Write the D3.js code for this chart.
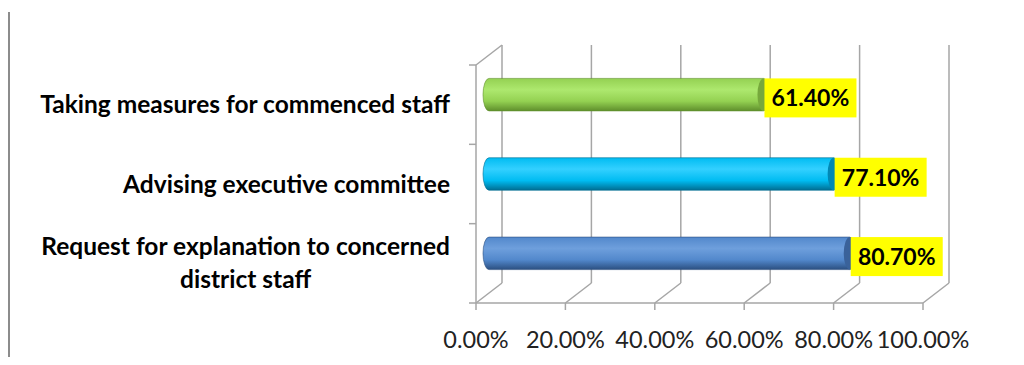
<!DOCTYPE html>
<html>
<head>
<meta charset="utf-8">
<script src="https://cdn.jsdelivr.net/npm/d3@7"></script>
<style>
  html, body { margin: 0; padding: 0; background: #fff; }
  svg { display: block; font-family: Lato, "Open Sans", sans-serif; }
</style>
</head>
<body>
<svg id="chart" width="1024" height="365"></svg>
<script>
// Categories listed top to bottom as they appear on the vertical axis
const categories = [
  ["Taking measures for commenced staff"],
  ["Advising executive committee"],
  ["Request for explanation to concerned", "district staff"]
];
const values = [0.614, 0.771, 0.807];
const valueLabels = ["61.40%", "77.10%", "80.70%"];
const tickValues = [0, 0.2, 0.4, 0.6, 0.8, 1.0];
const tickLabels = ["0.00%", "20.00%", "40.00%", "60.00%", "80.00%", "100.00%"];
const barColors = [
  { light: "#ade86e", mid: "#94d152", dark: "#5f8f2c", cap: "#76a83c" },
  { light: "#33d0ff", mid: "#00bcf2", dark: "#006d92", cap: "#0088b5" },
  { light: "#6e9fdc", mid: "#5288cc", dark: "#2b4f80", cap: "#3a629a" }
];

const svg = d3.select("#chart");

// Plot frame: front floor line and 3D depth offset
const x0 = 476, plotW = 447;
const yTop = 65, yBottom = 303;
const depthX = 26, depthY = -20;

const x = d3.scaleLinear().domain([0, 1]).range([x0, x0 + plotW]);
const y = d3.scaleBand().domain(d3.range(categories.length)).range([yTop, yBottom]);

const gridColor = "#a6a6a6";

// Page-side rule at the far left
svg.append("line")
  .attr("x1", 9).attr("x2", 9).attr("y1", 12).attr("y2", 357)
  .attr("stroke", "#8c8c8c").attr("stroke-width", 2);

const frame = svg.append("g").attr("fill", "none").attr("stroke", gridColor).attr("stroke-width", 1.5);

tickValues.forEach(v => {
  // back-wall gridlines
  frame.append("line")
    .attr("x1", x(v) + depthX).attr("x2", x(v) + depthX)
    .attr("y1", yTop + depthY).attr("y2", yBottom + depthY);
  // floor diagonals
  frame.append("line")
    .attr("x1", x(v)).attr("x2", x(v) + depthX)
    .attr("y1", yBottom).attr("y2", yBottom + depthY);
  // tick marks below the floor
  frame.append("line")
    .attr("x1", x(v)).attr("x2", x(v))
    .attr("y1", yBottom).attr("y2", yBottom + 7);
});

// Floor front edge
frame.append("line")
  .attr("x1", x(0)).attr("x2", x(1))
  .attr("y1", yBottom).attr("y2", yBottom);

// Left wall front edge and top diagonal
frame.append("line")
  .attr("x1", x(0)).attr("x2", x(0))
  .attr("y1", yTop).attr("y2", yBottom);
frame.append("line")
  .attr("x1", x(0)).attr("x2", x(0) + depthX)
  .attr("y1", yTop).attr("y2", yTop + depthY);

// Category tick marks on the left wall
const catEdges = y.domain().map(i => y(i)).concat([yBottom]);
catEdges.forEach(e => {
  frame.append("line")
    .attr("x1", x(0) - 7).attr("x2", x(0))
    .attr("y1", e).attr("y2", e);
});

// Gradients for cylinder bars
const defs = svg.append("defs");
barColors.forEach((c, i) => {
  const g = defs.append("linearGradient")
    .attr("id", "cyl" + i).attr("x1", 0).attr("y1", 0).attr("x2", 0).attr("y2", 1);
  g.append("stop").attr("offset", "0%").attr("stop-color", c.mid);
  g.append("stop").attr("offset", "35%").attr("stop-color", c.light);
  g.append("stop").attr("offset", "70%").attr("stop-color", c.mid);
  g.append("stop").attr("offset", "100%").attr("stop-color", c.dark);
});

// Bars sit halfway into the depth
const midDX = depthX / 2, midDY = depthY / 2;
const barH = y.bandwidth() * 0.41;
const rx = 6;

const bars = svg.append("g");
values.forEach((v, i) => {
  const cy = y(i) + y.bandwidth() / 2 + midDY;
  const top = cy - barH / 2, bot = cy + barH / 2;
  const left = x(0) + midDX;
  const right = x(v) + midDX;
  const ry = barH / 2;
  const path = `M${left},${top} L${right},${top} A${rx},${ry} 0 0 1 ${right},${bot} ` +
               `L${left},${bot} A${rx},${ry} 0 0 1 ${left},${top} Z`;
  bars.append("path")
    .attr("d", path)
    .attr("fill", `url(#cyl${i})`)
    .attr("stroke", barColors[i].dark).attr("stroke-width", 0.6);
  // end cap
  bars.append("ellipse")
    .attr("cx", right).attr("cy", cy).attr("rx", rx).attr("ry", ry)
    .attr("fill", barColors[i].cap);

  // value label box
  const boxW = 92, boxH = 39;
  const bx = right + 1, by = top;
  bars.append("rect")
    .attr("x", bx).attr("y", by).attr("width", boxW).attr("height", boxH)
    .attr("fill", "#ffff00");
  bars.append("text")
    .attr("x", bx + boxW / 2).attr("y", by + boxH / 2)
    .attr("dy", "0.36em")
    .attr("text-anchor", "middle")
    .attr("font-size", 23).attr("font-weight", "bold")
    .attr("fill", "#000")
    .text(valueLabels[i]);
});

// Category labels: block right-aligned, wrapped lines centred within the block
const catG = svg.append("g");
const labelRight = 450;
const catFont = 24.5;
categories.forEach((lines, i) => {
  const cy = y(i) + y.bandwidth() / 2;
  const lh = 33;
  const startY = cy - (lines.length - 1) * lh / 2 - (lines.length > 1 ? 1 : 0);
  const g = catG.append("g");
  const texts = lines.map((ln, j) => g.append("text")
    .attr("y", startY + j * lh)
    .attr("dy", "0.36em")
    .attr("font-size", catFont).attr("font-weight", "bold")
    .attr("fill", "#000")
    .text(ln));
  const widths = texts.map(t => t.node().getComputedTextLength());
  const maxW = d3.max(widths);
  const centre = labelRight - maxW / 2;
  texts.forEach(t => t.attr("x", centre).attr("text-anchor", "middle"));
});

// Value axis labels
const axG = svg.append("g");
tickValues.forEach((v, i) => {
  axG.append("text")
    .attr("x", x(v)).attr("y", 340)
    .attr("dy", "0.36em")
    .attr("text-anchor", "middle")
    .attr("font-size", 23.5)
    .attr("fill", "#222")
    .text(tickLabels[i]);
});
</script>
</body>
</html>
